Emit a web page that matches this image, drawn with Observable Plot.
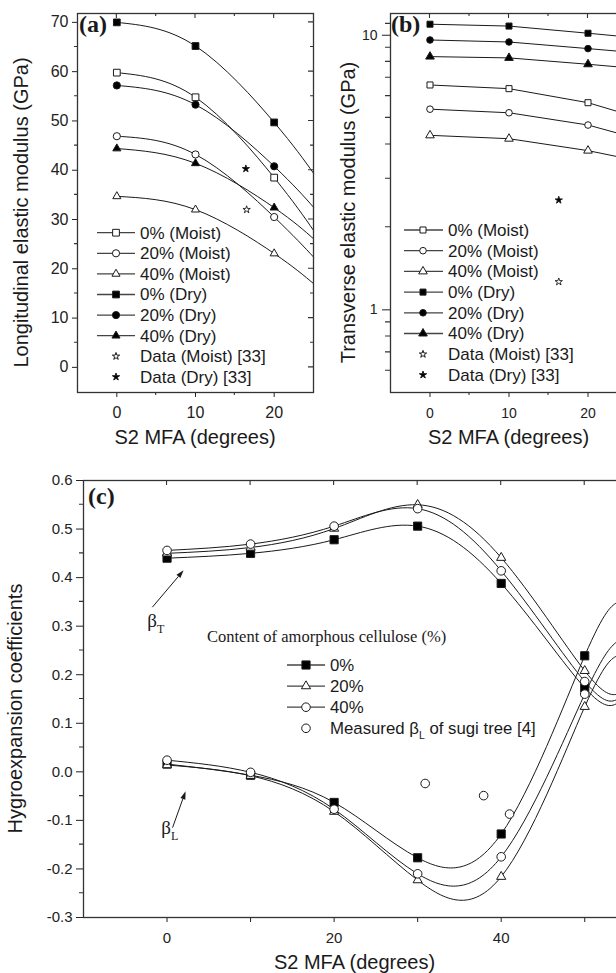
<!DOCTYPE html>
<html>
<head>
<meta charset="utf-8">
<script src="https://cdn.jsdelivr.net/npm/d3@7"></script>
<script src="https://cdn.jsdelivr.net/npm/@observablehq/plot@0.6"></script>
<style>
  html, body { margin: 0; padding: 0; background: #ffffff; }
  #wrap { position: relative; width: 616px; height: 973px; overflow: hidden; background: #ffffff; }
  #wrap svg { position: absolute; max-width: none !important; overflow: visible; }
</style>
</head>
<body>
<div id="wrap"></div>
<script>
// ================= DATA =================
// (a) Longitudinal elastic modulus (GPa) vs S2 MFA (degrees)
const mfaA = [0, 10, 20];
const mfaAEdge = 25;
const seriesLabelsAB = ["0% (Moist)", "20% (Moist)", "40% (Moist)", "0% (Dry)", "20% (Dry)", "40% (Dry)"];
const longMoist0  = [59.8, 54.8, 38.5];
const longMoist20 = [46.9, 43.2, 30.5];
const longMoist40 = [34.7, 32.0, 23.1];
const longDry0    = [70.0, 65.2, 49.7];
const longDry20   = [57.2, 53.3, 40.8];
const longDry40   = [44.4, 41.4, 32.4];
const longEdge    = [27.8, 22.4, 17.0, 39.4, 32.5, 26.1];
const refLabels   = ["Data (Moist) [33]", "Data (Dry) [33]"];
const longRefMFA  = [16.5, 16.4];
const longRef     = [32.0, 40.3];
const longTicks   = [0, 10, 20, 30, 40, 50, 60, 70];
const mfaTicksAB  = [0, 10, 20];

// (b) Transverse elastic modulus (GPa), log scale
const mfaB = [0, 10, 20];
const mfaBEdge = 24;
const transMoist0  = [6.59, 6.39, 5.68];
const transMoist20 = [5.38, 5.22, 4.71];
const transMoist40 = [4.32, 4.20, 3.80];
const transDry0    = [10.97, 10.8, 10.17];
const transDry20   = [9.61, 9.45, 8.94];
const transDry40   = [8.36, 8.27, 7.84];
const transEdge    = [5.25, 4.38, 3.60, 9.92, 8.74, 7.66];
const transRefMFA  = [16.3, 16.3];
const transRef     = [1.265, 2.51];
const transTicks   = [1, 10];

// (c) Hygroexpansion coefficients
const mfaC = [0, 10, 20, 30, 40, 50];
const mfaCEdge = 54;
const contentTitle = "Content of amorphous cellulose (%)";
const contentLabels = ["0%", "20%", "40%"];
const betaT0  = [0.440, 0.450, 0.478, 0.506, 0.388, 0.173];
const betaT20 = [0.450, 0.462, 0.501, 0.550, 0.441, 0.208];
const betaT40 = [0.456, 0.469, 0.506, 0.542, 0.414, 0.186];
const betaTEdge = [0.142, 0.160, 0.150];
const betaL0  = [0.016, -0.007, -0.063, -0.177, -0.128, 0.239];
const betaL20 = [0.014, -0.008, -0.082, -0.223, -0.216, 0.134];
const betaL40 = [0.024, -0.001, -0.077, -0.210, -0.175, 0.160];
const betaLEdge = [0.35, 0.24, 0.27];
const measuredLabel = "Measured β_L of sugi tree [4]";
const measuredMFA = [30.9, 37.9, 41.0];
const measuredBetaL = [-0.024, -0.049, -0.087];
const hygroTicks = [-0.3, -0.2, -0.1, 0.0, 0.1, 0.2, 0.3, 0.4, 0.5, 0.6];
const mfaTicksC = [0, 10, 20, 30, 40, 50];
const mfaLabelsC = [0, 20, 40];
// annotation anchors (data coordinates)
const betaSubs = ["T", "L"];
const betaArrowFrom = [[-1.7, 0.338], [0.72, -0.116]];
const betaArrowTo   = [[2.04, 0.414], [2.28, -0.041]];
const betaLabelAt   = [[-2.3, 0.297], [-0.63, -0.130]];

// ================= STYLE =================
const SANS = "'Liberation Sans', Arial, Helvetica, sans-serif";
const SERIF = "'Liberation Serif', 'Times New Roman', Times, serif";
const INK = "#1a1a1a";
const AXIS = "#333333";
const symbolsAB = ["square", "circle", "triangle", "square", "circle", "triangle"];
const fillsAB = ["white", "white", "white", "black", "black", "black"];
const symbolsC = ["square", "triangle", "circle"];
const fillsC = ["black", "white", "white"];
const rA = {square: 3.8, circle: 3.6, triangle: 3.0, star: 2.3};
const rB = {square: 3.4, circle: 3.3, triangle: 3.2, star: 2.3};
const rC = {square: 4.6, circle: 4.3, triangle: 3.4};

const symTypes = {square: d3.symbolSquare, circle: d3.symbolCircle, triangle: d3.symbolTriangle, star: d3.symbolStar};
const symPath = (name, r) => d3.symbol(symTypes[name], Math.PI * r * r)();
const pts = (xs, ys) => xs.map((x, i) => ({x, y: ys[i]}));

function addLabel(g, label, x, y, size, family) {
  const t = g.append("text").attr("x", x).attr("y", y).attr("dy", "0.35em")
    .attr("text-anchor", "start")
    .attr("font-family", family || SANS).attr("font-size", size).attr("fill", INK);
  const m = /^(.*)_(\w)(.*)$/.exec(label);
  if (m) {
    t.append("tspan").text(m[1]);
    t.append("tspan").attr("dy", 5).attr("font-size", size * 0.62).text(m[2]);
    t.append("tspan").attr("dy", -5).text(m[3]);
  } else t.text(label);
  return t;
}

function legend(items, geo) {
  return (index, scales, values, dims) => {
    const g = d3.create("svg:g");
    const L = dims.marginLeft, T = dims.marginTop;
    if (geo.title) {
      g.append("text").attr("x", L + geo.title.dx).attr("y", T + geo.title.dy).attr("text-anchor", "start")
        .attr("font-family", SERIF).attr("font-size", geo.title.size).attr("fill", INK).text(geo.title.text);
    }
    items.forEach((it, i) => {
      const cy = T + geo.y0 + i * geo.step;
      if (it.line) g.append("line").attr("x1", L + geo.x0).attr("x2", L + geo.x1)
        .attr("y1", cy).attr("y2", cy).attr("stroke", "#444").attr("stroke-width", 1.3);
      g.append("path").attr("d", symPath(it.symbol, it.r))
        .attr("transform", `translate(${L + geo.xm},${cy})`)
        .attr("fill", it.fill).attr("stroke", INK).attr("stroke-width", 1);
      addLabel(g, it.label, L + geo.xt, cy, geo.size);
    });
    return g.node();
  };
}

function frameTicks(spec) {
  return (index, scales, values, dims) => {
    const L = dims.marginLeft, R = dims.width - dims.marginRight;
    const T = dims.marginTop, B = dims.height - dims.marginBottom;
    let d = "";
    (spec.bottom || []).forEach(v => { d += `M${scales.x(v)},${B}v${spec.minor}`; });
    (spec.topMajor || []).forEach(v => { d += `M${scales.x(v)},${T}v${spec.major}`; });
    (spec.topMinor || []).forEach(v => { d += `M${scales.x(v)},${T}v${spec.minor}`; });
    (spec.left || []).forEach(v => { d += `M${L},${scales.y(v)}h${-spec.minorY}`; });
    (spec.rightMajor || []).forEach(v => { d += `M${R},${scales.y(v)}h${-spec.major}`; });
    (spec.rightMinor || []).forEach(v => { d += `M${R},${scales.y(v)}h${-spec.minor}`; });
    const g = d3.create("svg:g");
    g.append("path").attr("d", d).attr("fill", "none").attr("stroke", AXIS).attr("stroke-width", 1.1);
    return g.node();
  };
}

function titles(t) {
  return (index, scales, values, dims) => {
    const L = dims.marginLeft, R = dims.width - dims.marginRight;
    const T = dims.marginTop, B = dims.height - dims.marginBottom;
    const g = d3.create("svg:g").attr("fill", INK);
    g.append("text").attr("x", (L + R) / 2).attr("y", B + 52).attr("text-anchor", "middle")
      .attr("font-family", SANS).attr("font-size", 20).text(t.x);
    g.append("text").attr("transform", `translate(${L + t.yBase},${(T + B) / 2 + 10}) rotate(-90)`)
      .attr("text-anchor", "middle").attr("font-family", SANS).attr("font-size", 20).text(t.y);
    g.append("text").attr("x", L + t.pdx).attr("y", T + t.pdy).attr("text-anchor", "start").attr("font-family", SERIF)
      .attr("font-weight", "bold").attr("font-size", 24).text(t.panel);
    return g.node();
  };
}

function betaNotes() {
  return (index, scales, values, dims) => {
    const g = d3.create("svg:g");
    betaArrowFrom.forEach((f, i) => {
      const x1 = scales.x(f[0]), y1 = scales.y(f[1]);
      const x2 = scales.x(betaArrowTo[i][0]), y2 = scales.y(betaArrowTo[i][1]);
      const a = Math.atan2(y2 - y1, x2 - x1), hl = 8, hw = 2.6;
      const bx = x2 - hl * Math.cos(a), by = y2 - hl * Math.sin(a);
      const px = -Math.sin(a), py = Math.cos(a);
      g.append("line").attr("x1", x1).attr("y1", y1).attr("x2", bx).attr("y2", by)
        .attr("stroke", INK).attr("stroke-width", 1);
      g.append("path").attr("d", `M${x2},${y2}L${bx + hw * px},${by + hw * py}L${bx - hw * px},${by - hw * py}Z`).attr("fill", INK);
      const t = g.append("text").attr("x", scales.x(betaLabelAt[i][0])).attr("y", scales.y(betaLabelAt[i][1]))
        .attr("text-anchor", "start").attr("font-family", SERIF).attr("font-size", 19).attr("fill", INK);
      t.append("tspan").text("β");
      t.append("tspan").attr("dy", 6).attr("font-size", 12).text(betaSubs[i]);
    });
    return g.node();
  };
}

const wrap = document.getElementById("wrap");
function place(svg, left, top) {
  svg.style.left = left + "px";
  svg.style.top = top + "px";
  wrap.appendChild(svg);
}
const baseStyle = (fs) => ({fontFamily: SANS, fontSize: fs + "px", color: "#222", background: "transparent", maxWidth: "none", overflow: "visible"});

// ================= PANEL (a) =================
const longSeries = [longMoist0, longMoist20, longMoist40, longDry0, longDry20, longDry40];
const legendItemsA = [
  ...seriesLabelsAB.map((label, i) => ({label, line: true, symbol: symbolsAB[i], fill: fillsAB[i], r: rA[symbolsAB[i]]})),
  ...refLabels.map((label, i) => ({label, line: false, symbol: "star", fill: i === 0 ? "white" : "black", r: rA.star}))
];
const plotA = Plot.plot({
  width: 320, height: 460,
  marginLeft: 77, marginRight: 7, marginTop: 13, marginBottom: 68,
  style: baseStyle(16),
  x: {domain: [-5, 25], ticks: mfaTicksAB, tickSize: 5, tickPadding: 9, tickFormat: d => String(d), label: null},
  y: {domain: [-5.1, 71.8], ticks: longTicks, tickSize: 5, tickPadding: 4, tickFormat: d => String(d), label: null},
  marks: [
    ...longSeries.map((v, i) => Plot.line([...pts(mfaA, v), {x: mfaAEdge, y: longEdge[i]}],
      {x: "x", y: "y", curve: "natural", stroke: INK, strokeWidth: 1})),
    ...longSeries.map((v, i) => Plot.dot(pts(mfaA, v),
      {x: "x", y: "y", symbol: symbolsAB[i], r: rA[symbolsAB[i]], fill: fillsAB[i], stroke: INK, strokeWidth: 1})),
    ...longRef.map((v, i) => Plot.dot([{x: longRefMFA[i], y: v}],
      {x: "x", y: "y", symbol: "star", r: rA.star, fill: i === 0 ? "white" : "black", stroke: INK, strokeWidth: 0.9})),
    Plot.frame({stroke: AXIS, strokeWidth: 1.3}),
    frameTicks({minor: 3, minorY: 3, major: 5, bottom: [5, 15], topMajor: mfaTicksAB, topMinor: [5, 15],
      left: d3.range(5, 70, 10), rightMajor: longTicks, rightMinor: d3.range(5, 70, 10)}),
    legend(legendItemsA, {x0: 20, xm: 39, x1: 58, xt: 63, y0: 219.7, step: 20.6, size: 17}),
    titles({x: "S2 MFA (degrees)", y: "Longitudinal elastic modulus (GPa)", yBase: -49, panel: "(a)", pdx: 2, pdy: 19})
  ]
});
place(plotA, 0, 0);

// ================= PANEL (b) =================
const transSeries = [transMoist0, transMoist20, transMoist40, transDry0, transDry20, transDry40];
const legendItemsB = [
  ...seriesLabelsAB.map((label, i) => ({label, line: true, symbol: symbolsAB[i], fill: fillsAB[i], r: rB[symbolsAB[i]]})),
  ...refLabels.map((label, i) => ({label, line: false, symbol: "star", fill: i === 0 ? "white" : "black", r: rB.star}))
];
const plotB = Plot.plot({
  width: 320, height: 460,
  marginLeft: 70, marginRight: 13, marginTop: 13, marginBottom: 68,
  style: baseStyle(14),
  x: {domain: [-5, 25], ticks: mfaTicksAB, tickSize: 5, tickPadding: 11, tickFormat: d => String(d), label: null},
  y: {type: "log", domain: [0.5, 12], ticks: transTicks, tickSize: 8, tickPadding: 5, tickFormat: d => String(d), label: null},
  marks: [
    ...transSeries.map((v, i) => Plot.line([...pts(mfaB, v), {x: mfaBEdge, y: transEdge[i]}],
      {x: "x", y: "y", stroke: INK, strokeWidth: 1})),
    ...transSeries.map((v, i) => Plot.dot(pts(mfaB, v),
      {x: "x", y: "y", symbol: symbolsAB[i], r: rB[symbolsAB[i]], fill: fillsAB[i], stroke: INK, strokeWidth: 1})),
    ...transRef.map((v, i) => Plot.dot([{x: transRefMFA[i], y: v}],
      {x: "x", y: "y", symbol: "star", r: rB.star, fill: i === 0 ? "white" : "black", stroke: INK, strokeWidth: 0.9})),
    Plot.frame({stroke: AXIS, strokeWidth: 1.3}),
    frameTicks({minor: 3, minorY: 5, major: 5, bottom: [5, 15], topMajor: mfaTicksAB, topMinor: [5, 15],
      left: [0.6, 0.7, 0.8, 0.9, 2, 3, 4, 5, 6, 7, 8, 9, 11]}),
    legend(legendItemsB, {x0: 14, xm: 33, x1: 53, xt: 58, y0: 217, step: 20.7, size: 17}),
    titles({x: "S2 MFA (degrees)", y: "Transverse elastic modulus (GPa)", yBase: -35, panel: "(b)", pdx: 1, pdy: 19})
  ]
});
place(plotB, 320, 0);

// ================= PANEL (c) =================
const betaTSeries = [betaT0, betaT20, betaT40];
const betaLSeries = [betaL0, betaL20, betaL40];
const legendItemsC = [
  ...contentLabels.map((label, i) => ({label, line: true, symbol: symbolsC[i], fill: fillsC[i], r: rC[symbolsC[i]]})),
  {label: measuredLabel, line: false, symbol: "circle", fill: "white", r: rC.circle}
];
const plotC = Plot.plot({
  width: 640, height: 513,
  marginLeft: 83, marginRight: 14, marginTop: 20, marginBottom: 56,
  style: baseStyle(15),
  x: {domain: [-10, 55], ticks: mfaTicksC, tickSize: 5, tickPadding: 10,
      tickFormat: d => mfaLabelsC.includes(d) ? String(d) : "", label: null},
  y: {domain: [-0.3, 0.6], ticks: hygroTicks, tickSize: 7, tickPadding: 4, tickFormat: d => d.toFixed(1), label: null},
  marks: [
    ...betaTSeries.map((v, i) => Plot.line([...pts(mfaC, v), {x: mfaCEdge, y: betaTEdge[i]}],
      {x: "x", y: "y", curve: "natural", stroke: INK, strokeWidth: 1})),
    ...betaLSeries.map((v, i) => Plot.line([...pts(mfaC, v), {x: mfaCEdge, y: betaLEdge[i]}],
      {x: "x", y: "y", curve: "natural", stroke: INK, strokeWidth: 1})),
    ...betaTSeries.map((v, i) => Plot.dot(pts(mfaC, v),
      {x: "x", y: "y", symbol: symbolsC[i], r: rC[symbolsC[i]], fill: fillsC[i], stroke: INK, strokeWidth: 1})),
    ...betaLSeries.map((v, i) => Plot.dot(pts(mfaC, v),
      {x: "x", y: "y", symbol: symbolsC[i], r: rC[symbolsC[i]], fill: fillsC[i], stroke: INK, strokeWidth: 1})),
    Plot.dot(pts(measuredMFA, measuredBetaL), {x: "x", y: "y", symbol: "circle", r: rC.circle, fill: "white", stroke: INK, strokeWidth: 1}),
    Plot.frame({stroke: AXIS, strokeWidth: 1.3}),
    frameTicks({minor: 5, minorY: 4, major: 5, topMajor: mfaTicksC,
      left: [-0.25, -0.15, -0.05, 0.05, 0.15, 0.25, 0.35, 0.45, 0.55]}),
    betaNotes(),
    legend(legendItemsC, {x0: 204, xm: 223, x1: 242, xt: 247, y0: 185, step: 21.1, size: 16.8,
      title: {text: contentTitle, dx: 124, dy: 162, size: 16.5}}),
    titles({x: "S2 MFA (degrees)", y: "Hygroexpansion coefficients", yBase: -61, panel: "(c)", pdx: 5, pdy: 24})
  ]
});
place(plotC, 0, 460);
</script>
</body>
</html>
